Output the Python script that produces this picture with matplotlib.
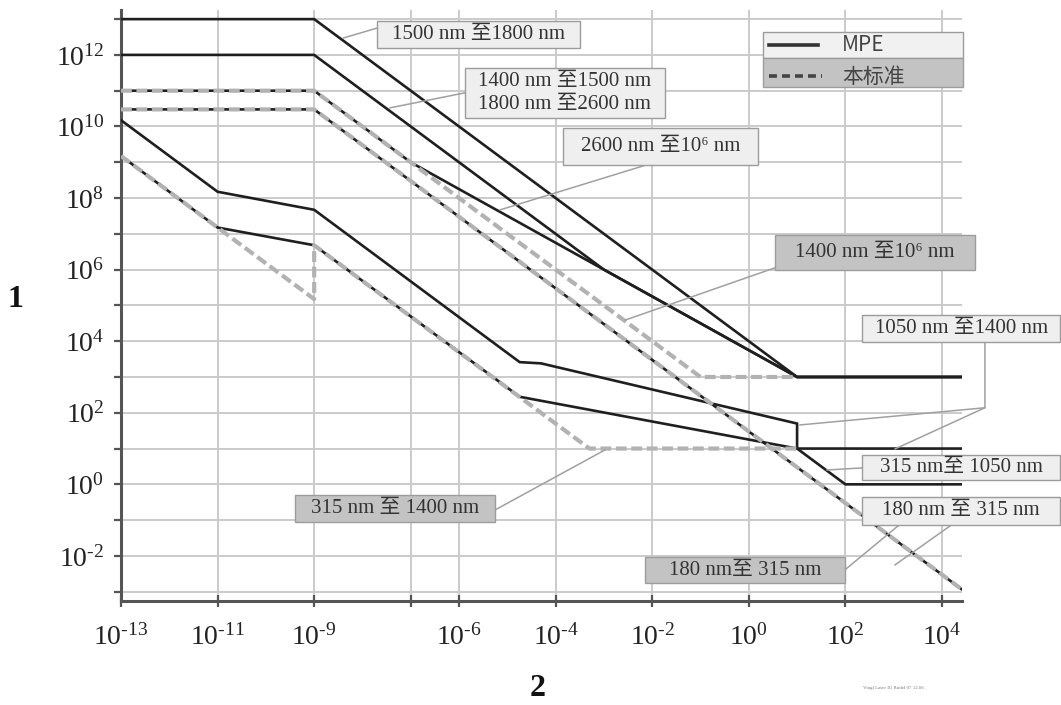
#!/usr/bin/env python3
"""MPE vs. 本标准 exposure limits, log-log, grey-scale figure recreation."""
import matplotlib

matplotlib.use("Agg")
import matplotlib.pyplot as plt
import numpy as np
from matplotlib.patches import Rectangle
from matplotlib.ticker import FixedLocator, FixedFormatter, NullLocator

plt.rcParams["font.family"] = ["Liberation Serif", "Noto Sans CJK SC", "DejaVu Serif"]
plt.rcParams["mathtext.fontset"] = "custom"
plt.rcParams["mathtext.rm"] = "Liberation Serif"
plt.rcParams["mathtext.it"] = "Liberation Serif:italic"
plt.rcParams["mathtext.bf"] = "Liberation Serif:bold"

INK = "#1f1f1f"
STD_GREY = "#b2b2b2"
GRID = "#cbcbcb"
AXIS = "#555555"
BOX_LIGHT = "#efefef"
BOX_DARK = "#c3c3c3"
BOX_EDGE = "#9c9c9c"
LEADER = "#a0a0a0"
TXT = "#333333"

T_END = 2.6e4

# --- MPE curves (solid) : exposure time [s] -> value
mpe_1500_t = [1e-13, 1e-9, 10, T_END]
mpe_1500_e = [1e13, 1e13, 1e3, 1e3]

mpe_1400_t = [1e-13, 1e-9, 1e-3, 10, T_END]
mpe_1400_e = [1e12, 1e12, 1e6, 1e3, 1e3]

mpe_2600_t = [1e-13, 1e-9, 1e-7, 10, T_END]
mpe_2600_e = [1e11, 1e11, 1e9, 1e3, 1e3]

mpe_180_t = [1e-13, 1e-9, T_END]
mpe_180_e = [3e10, 3e10, 30 / T_END]

mpe_1050_t = [1e-13, 1e-11, 1e-9, 1.8e-5, 5e-5, 10, 10, T_END]
mpe_1050_e = [1.5e10, 1.5e8, 4.7e7, 2.6e3, 2.4e3, 50, 10, 10]

mpe_315_t = [1e-13, 1e-11, 1e-9, 1.8e-5, 10, 100, T_END]
mpe_315_e = [1.5e9, 1.5e7, 4.8e6, 2.8e2, 10, 1, 1]

# --- 本标准 curves (grey dashed)
std_1400_t = [1e-13, 1e-9, 0.1, 10]
std_1400_e = [1e11, 1e11, 1e3, 1e3]

std_180_t = mpe_180_t
std_180_e = mpe_180_e

std_315_t = [1e-13, 1e-11, 1e-9, 1e-9, 5e-4, 10]
std_315_e = [1.5e9, 1.5e7, 1.5e5, 4.8e6, 10, 10]

MPE_CURVES = [(mpe_1500_t, mpe_1500_e), (mpe_1400_t, mpe_1400_e), (mpe_2600_t, mpe_2600_e),
              (mpe_180_t, mpe_180_e), (mpe_1050_t, mpe_1050_e), (mpe_315_t, mpe_315_e)]
STD_CURVES = [(std_1400_t, std_1400_e), (std_180_t, std_180_e), (std_315_t, std_315_e)]

# axis ticks (log10 exponents)
x_major = [-13, -11, -9, -7, -6, -4, -2, 0, 2, 4]
x_labels = ["-13", "-11", "-9", "", "-6", "-4", "-2", "0", "2", "4"]
y_major = [-2, 0, 2, 4, 6, 8, 10, 12]
y_minor = list(range(-3, 14))

# annotation boxes: text, (log t0, log t1, log E0, log E1), dark?, leader polylines in log units
LABELS = [
    ("1500 nm 至1800 nm", (-7.70, -3.50, 12.18, 12.94), False, [[(-7.70, 12.75), (-8.40, 12.47)]]),
    ("1400 nm 至1500 nm\n1800 nm 至2600 nm", (-5.88, -1.74, 10.24, 11.64), False,
     [[(-5.88, 10.94), (-7.43, 10.52)]]),
    ("2600 nm 至10⁶ nm", (-3.85, 0.19, 8.93, 9.96), False, [[(-2.11, 8.93), (-5.15, 7.67)]]),
    ("1400 nm 至10⁶ nm", (0.54, 4.69, 5.99, 6.97), True, [[(0.54, 6.05), (-2.56, 4.59)]]),
    ("1050 nm 至1400 nm", (2.35, 6.45, 3.98, 4.73), False,
     [[(4.89, 3.98), (4.89, 2.14), (1.06, 1.66)], [(4.89, 2.14), (3.03, 0.99)]]),
    ("315 nm至 1050 nm", (2.35, 6.45, 0.12, 0.82), False, [[(2.35, 0.46), (1.62, 0.40)]]),
    ("180 nm 至 315 nm", (2.35, 6.45, -1.14, -0.35), False, [[(4.17, -1.16), (3.03, -2.25)]]),
    ("180 nm至 315 nm", (-2.15, 1.99, -2.76, -2.03), True, [[(1.99, -2.39), (3.19, -1.05)]]),
    ("315 nm 至 1400 nm", (-9.40, -5.26, -1.05, -0.31), True, [[(-5.26, -0.72), (-2.98, 0.96)]]),
]


def sup(exp):
    # short hyphen instead of the wide math minus, as in the original print
    return r"$\mathregular{10^{%s}}$" % str(exp).replace("-", "\u2010")


def main():
    fig = plt.figure(figsize=(10.61, 7.05), dpi=100, facecolor="white")
    ax = fig.add_axes([121 / 1061, 104 / 705, 841 / 1061, 591 / 705])
    ax.set_xscale("log")
    ax.set_yscale("log")
    ax.set_xlim(1e-13, 10 ** 4.415)
    ax.set_ylim(10 ** -3.26, 10 ** 13.255)

    for s in ("top", "right"):
        ax.spines[s].set_visible(False)
    for s in ("left", "bottom"):
        ax.spines[s].set_color(AXIS)
        ax.spines[s].set_linewidth(2.2)

    ax.xaxis.set_major_locator(FixedLocator([10.0 ** k for k in x_major]))
    ax.xaxis.set_major_formatter(FixedFormatter([sup(l) if l else "" for l in x_labels]))
    ax.xaxis.set_minor_locator(NullLocator())
    ax.yaxis.set_major_locator(FixedLocator([10.0 ** k for k in y_major]))
    ax.yaxis.set_major_formatter(FixedFormatter([sup(k) for k in y_major]))
    ax.yaxis.set_minor_locator(FixedLocator([10.0 ** k for k in y_minor]))
    ax.tick_params(axis="x", which="major", direction="inout", length=9, width=1.6, color=AXIS,
                   labelsize=20, pad=12, labelcolor="#222222")
    ax.tick_params(axis="y", which="both", direction="out", length=5, width=1.6, color=AXIS,
                   labelsize=20, pad=7, labelcolor="#222222")
    ax.tick_params(axis="y", which="minor", labelleft=False)
    ax.grid(True, axis="x", which="major", color=GRID, lw=1.4)
    ax.grid(True, axis="y", which="both", color=GRID, lw=1.4)
    ax.set_axisbelow(True)

    for t, e in MPE_CURVES:
        ax.plot(t, e, color=INK, lw=1.9, solid_joinstyle="miter", zorder=3)
    for t, e in STD_CURVES:
        ax.plot(t, e, color=STD_GREY, lw=3.0, ls=(0, (2.6, 1.1)), zorder=4)

    # labelled boxes with leader lines
    for text, (t0, t1, e0, e1), dark, leaders in LABELS:
        for path in leaders:
            lt, le = zip(*path)
            ax.plot(10.0 ** np.array(lt), 10.0 ** np.array(le), color=LEADER, lw=1.1,
                    clip_on=False, zorder=5)
        ax.add_patch(Rectangle((10 ** t0, 10 ** e0), 10 ** t1 - 10 ** t0, 10 ** e1 - 10 ** e0,
                               fc=BOX_DARK if dark else BOX_LIGHT, ec=BOX_EDGE, lw=1.0,
                               clip_on=False, zorder=6))
        ax.text(10 ** ((t0 + t1) / 2), 10 ** ((e0 + e1) / 2), text, ha="center", va="center",
                fontsize=15, color=TXT, linespacing=1.3, zorder=7, clip_on=False)

    # legend with shaded rows
    tr = ax.transAxes
    ax.add_patch(Rectangle((0.763, 0.919), 0.238, 0.044, transform=tr, fc="#f1f1f1",
                           ec=BOX_EDGE, lw=1.0, clip_on=False, zorder=6))
    ax.add_patch(Rectangle((0.763, 0.870), 0.238, 0.049, transform=tr, fc=BOX_DARK,
                           ec=BOX_EDGE, lw=1.0, clip_on=False, zorder=6))
    ax.plot([0.770, 0.829], [0.941, 0.941], transform=tr, color="#333333", lw=2.6,
            clip_on=False, zorder=7)
    ax.plot([0.770, 0.833], [0.8875, 0.8875], transform=tr, color="#444444", lw=2.6,
            ls=(0, (2.2, 1.4)), clip_on=False, zorder=7)
    ax.text(0.857, 0.941, "MPE", transform=tr, ha="left", va="center", fontsize=15,
            family=["Noto Sans CJK SC"], color="#444444", zorder=7)
    ax.text(0.857, 0.8875, "本标准", transform=tr, ha="left", va="center", fontsize=15,
            family=["Noto Sans CJK SC"], color="#444444", zorder=7)

    fig.text(15 / 1061, 1 - 300 / 705, "1", ha="center", va="center", fontsize=23,
             fontweight="bold", color="#111111")
    fig.text(538 / 1061, 1 - 688 / 705, "2", ha="center", va="center", fontsize=23,
             fontweight="bold", color="#111111")
    fig.text(893 / 1061, 1 - 688 / 705, "Vingl Laser IU Rudel 07 12.06", ha="center",
             va="center", fontsize=3.5, color="#777777")

    fig.savefig("out.png", dpi=100, facecolor="white")
    plt.close(fig)


if __name__ == "__main__":
    main()
